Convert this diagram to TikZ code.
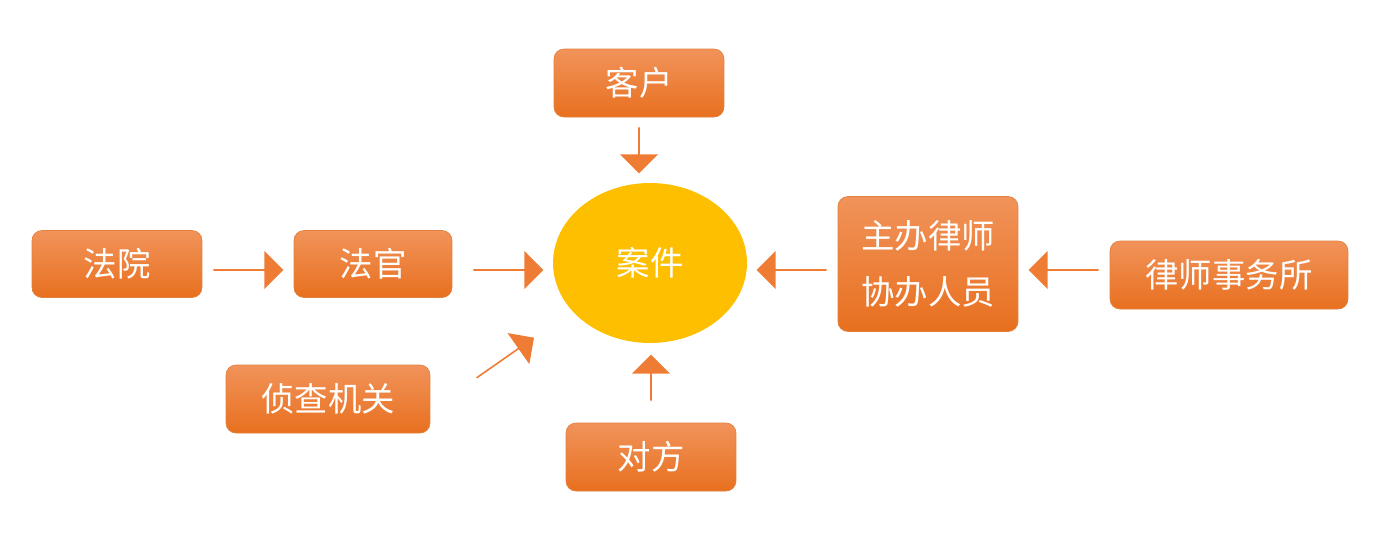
\documentclass[tikz,border=0pt]{standalone}
\usepackage{fontspec}
\newfontfamily\cjk{Noto Sans CJK SC}
\usetikzlibrary{shapes.arrows,shapes.geometric,positioning}

\definecolor{boxtop}{HTML}{F1935A}
\definecolor{boxbot}{HTML}{E8701F}
\definecolor{boxline}{HTML}{E2813E}
\definecolor{arrowfill}{HTML}{EE7C34}
\definecolor{casefill}{HTML}{FDBF00}

\tikzset{
  box/.style={rounded corners=0.2cm, draw=boxline, top color=boxtop, bottom color=boxbot,
    text=white, font=\cjk\fontsize{19}{32}\selectfont, align=center, inner sep=0pt},
  blockarrow/.style={single arrow, fill=arrowfill, draw=none, inner sep=0pt,
    minimum width=0.76cm, single arrow head extend=0.16cm, minimum height=1.4cm},
}

\begin{document}
\begin{tikzpicture}[x=0.02cm, y=-0.02cm]
\useasboundingbox (0,0) rectangle (1376,532);
% case in the middle
\node[ellipse, fill=casefill, minimum width=3.88cm, minimum height=3.2cm, text=white,
  font=\cjk\fontsize{19}{22}\selectfont] (case) at (650,263) {案件};

% parties
\node[box, minimum width=3.4cm, minimum height=1.36cm] (client) at (639,83) {客户};
\node[box, minimum width=3.4cm, minimum height=1.34cm] (court) at (117,264) {法院};
\node[box, minimum width=3.16cm, minimum height=1.34cm] (judge) at (373,264) {法官};
\node[box, minimum width=4.08cm, minimum height=1.36cm] (police) at (328,399) {侦查机关};
\node[box, minimum width=3.4cm, minimum height=1.36cm] (other) at (651,457) {对方};
\node[box, minimum width=3.6cm, minimum height=2.7cm] (lawyer) at (928,264) {主办律师\\协办人员};
\node[box, minimum width=4.76cm, minimum height=1.36cm] (firm) at (1229,275) {律师事务所};

% arrows
\node[blockarrow] (a1) at (248,270) {};
\node[blockarrow] (a2) at (508,270) {};
\node[blockarrow, rotate=-90, minimum height=0.92cm] (a3) at (639,150) {};
\node[blockarrow, rotate=90, minimum height=0.92cm] (a4) at (651,378) {};
\node[blockarrow, rotate=35] (a5) at (505,358) {};
\node[blockarrow, rotate=180] (a6) at (792,270) {};
\node[blockarrow, rotate=180] (a7) at (1064,270) {};
\end{tikzpicture}
\end{document}
